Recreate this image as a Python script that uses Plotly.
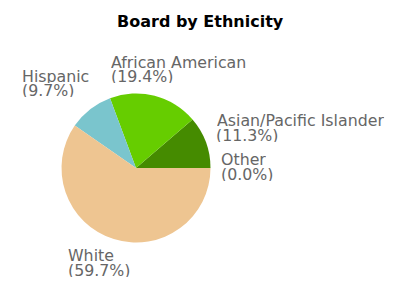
import plotly.graph_objects as go

# Data
labels = ["Other", "Asian/Pacific Islander", "African American", "Hispanic", "White"]
values = [0.0, 11.3, 19.4, 9.7, 59.7]
colors = ["#999999", "#458B00", "#66CD00", "#7AC5CD", "#EEC591"]
title_text = "Board by Ethnicity"

W, H = 400, 300
# pie geometry in pixels (top-left origin)
cx, cy, r = 136.0, 168.0, 74.5

fig = go.Figure(go.Pie(
    labels=labels, values=values, sort=False,
    direction="counterclockwise", rotation=90,
    marker=dict(colors=colors, line=dict(width=0)),
    textinfo="none", hoverinfo="label+percent", showlegend=False,
    domain=dict(x=[(cx - r) / W, (cx + r) / W], y=[1 - (cy + r) / H, 1 - (cy - r) / H]),
))

# label placement (left x, first-line baseline) in pixels
label_pos = {
    "Other": (221, 165.3),
    "Asian/Pacific Islander": (216.5, 126.3),
    "African American": (111, 67.7),
    "Hispanic": (21.7, 81.7),
    "White": (67.7, 261),
}
fs = 15.8
gap = 14.6
annotations = []
for lab, v in zip(labels, values):
    x, b = label_pos[lab]
    for i, t in enumerate([lab, f"({v:.1f}%)"]):
        yc = b + i * gap - 0.346 * fs
        annotations.append(dict(
            text=t, x=(x - 1) / W, y=1 - yc / H, xref="paper", yref="paper",
            xanchor="left", yanchor="middle", showarrow=False,
            height=13, borderpad=0, valign="middle",
            font=dict(family="DejaVu Sans", size=fs, color="#666666"),
        ))
annotations.append(dict(
    text=f"<b>{title_text}</b>", x=0.5, y=1 - (26.7 - 0.346 * 16) / H,
    xref="paper", yref="paper", xanchor="center", yanchor="middle", showarrow=False,
    font=dict(family="DejaVu Sans", size=16, color="#000000"),
))

fig.update_layout(
    width=W, height=H, margin=dict(l=0, r=0, t=0, b=0),
    paper_bgcolor="white", plot_bgcolor="white",
    annotations=annotations,
)
fig.write_html("out.html")
